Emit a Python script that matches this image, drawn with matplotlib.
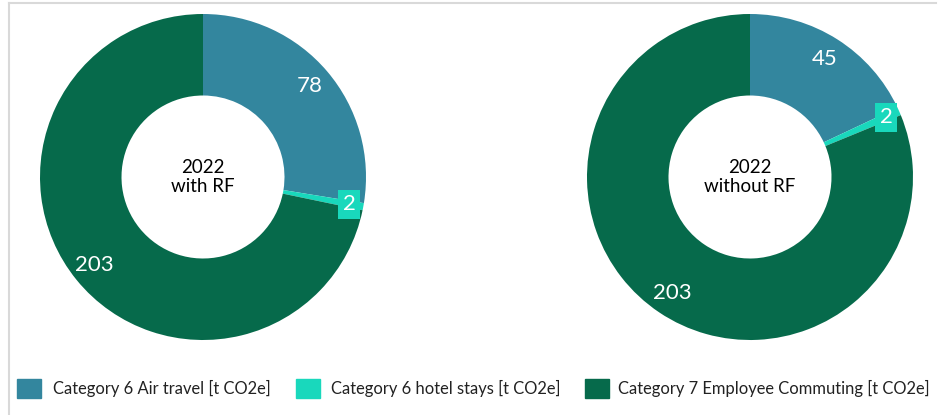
import matplotlib
matplotlib.use("Agg")
import matplotlib.pyplot as plt
from matplotlib.patches import Rectangle
from matplotlib.lines import Line2D

plt.rcParams['font.family'] = ['Lato', 'DejaVu Sans']

categories = ["Category 6 Air travel [t CO2e]",
              "Category 6 hotel stays [t CO2e]",
              "Category 7 Employee Commuting [t CO2e]"]
colors = ["#33869E", "#19D8BC", "#066A4B"]
with_rf = [78, 2, 203]
without_rf = [45, 2, 203]
centers = ["2022\nwith RF", "2022\nwithout RF"]

W, H = 939, 415
fig = plt.figure(figsize=(W / 100, H / 100), dpi=100)

# light frame lines (top and left)
fig.add_artist(Line2D([8.5 / W, 936 / W], [1 - 3.5 / H, 1 - 3.5 / H], color="#d9d9d9", lw=1.5))
fig.add_artist(Line2D([8.5 / W, 8.5 / W], [1 - 3.5 / H, 0], color="#d9d9d9", lw=1.5))

R = 163
for cx, vals, ctext in [(203, with_rf, centers[0]), (750, without_rf, centers[1])]:
    cy = H - 177
    ax = fig.add_axes([(cx - R) / W, (cy - R) / H, 2 * R / W, 2 * R / H])
    wedges, texts = ax.pie(vals, colors=colors, startangle=90, counterclock=False,
                           radius=1.0, wedgeprops=dict(width=0.5, linewidth=0),
                           labels=[str(v) for v in vals], labeldistance=0.86,
                           textprops=dict(color="white", fontsize=16))
    for t, v in zip(texts, vals):
        t.set_ha("center")
        t.set_va("center")
        if v == 2:
            t.set_position((t.get_position()[0] * 1.06, t.get_position()[1] * 1.06))
            t.set_bbox(dict(boxstyle="square,pad=0.2", fc=colors[1], ec="none"))
    ax.text(0, 0, ctext, ha="center", va="center", fontsize=13.5, color="black",
            linespacing=1.15)
    ax.set_xlim(-1, 1)
    ax.set_ylim(-1, 1)
    ax.set_aspect("equal")
    ax.axis("off")

# legend
sq_x = [17, 296, 585]
tx_x = [53, 331, 618]
ly = H - 388
for c, lab, sx, tx in zip(colors, categories, sq_x, tx_x):
    fig.add_artist(Rectangle((sx / W, (ly - 9.5) / H), 24 / W, 19 / H, color=c,
                             transform=fig.transFigure))
    fig.text(tx / W, ly / H, lab, ha="left", va="center", fontsize=11.9, color="#222222")

fig.savefig("out.png", dpi=100)
